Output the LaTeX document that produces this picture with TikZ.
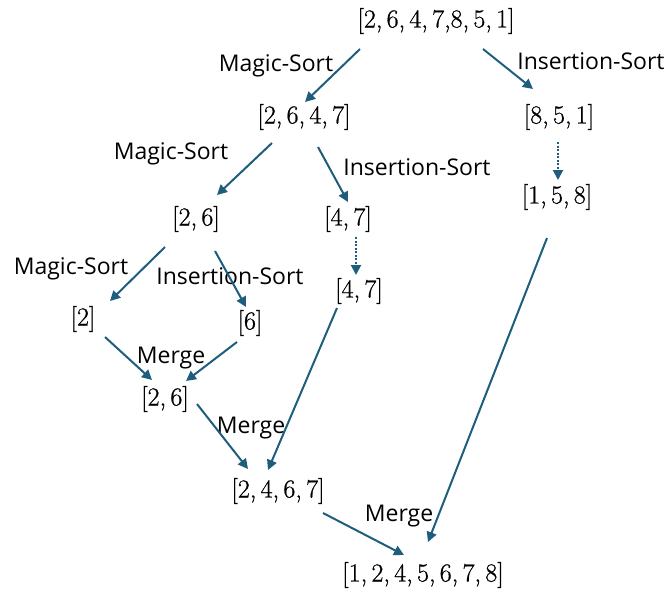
\documentclass[tikz,border=0pt]{standalone}
\usepackage{fontspec}
\setsansfont{Open Sans}
\newfontfamily\numfont[FakeBold=0.7]{Latin Modern Roman}
\usetikzlibrary{arrows.meta}
\definecolor{arr}{RGB}{30,94,124}
\newcommand{\lstsz}{\numfont\fontsize{26}{30}\selectfont}
\tikzset{
  lst/.style={inner sep=0pt, font=\lstsz},
  lbl/.style={inner sep=0pt, anchor=base, font=\sffamily\fontsize{23}{27}\selectfont},
  conn/.style={draw=arr, line width=2pt, -{Triangle[length=10pt,width=10pt]}},
  dconn/.style={conn, dash pattern=on 2pt off 1.5pt}
}
\begin{document}
\begin{tikzpicture}[x=1pt,y=-1pt]
\useasboundingbox (0,0) rectangle (670,589);
% nodes
\node[lst] (top) at (436,21) {[2,\,6,\,4,\,7,8,\,5,\,1]};
\node[lst] (a) at (304,117) {[2,\,6,\,4,\,7]};
\node[lst] (b) at (559,117) {[8,\,5,\,1]};
\node[lst] (bs) at (557,197) {[1,\,5,\,8]};
\node[lst] (c) at (196,219) {[2,\,6]};
\node[lst] (d) at (348,219) {[4,\,7]};
\node[lst] (ds) at (359,291) {[4,\,7]};
\node[lst] (e) at (83,319) {[2]};
\node[lst] (f) at (250,323) {[6]};
\node[lst] (m1) at (165,399) {[2,\,6]};
\node[lst] (m2) at (278,491) {[2,\,4,\,6,\,7]};
\node[lst] (m3) at (423,575) {[1,\,2,\,4,\,5,\,6,\,7,\,8]};
% labels
\node[lbl] (l1) at (276,71) {Magic-Sort};
\node[lbl] (l2) at (591,69) {Insertion-Sort};
\node[lbl] (l3) at (171,159) {Magic-Sort};
\node[lbl] (l4) at (417,175) {Insertion-Sort};
\node[lbl] (l5) at (71,274) {Magic-Sort};
\node[lbl] (l6) at (230,284) {Insertion-Sort};
\node[lbl] (l7) at (171,363) {Merge};
\node[lbl] (l8) at (251,433) {Merge};
\node[lbl] (l9) at (399,521) {Merge};
% connectors
\draw[conn] ([shift={(-76,28)}]top.center) -- ([shift={(1,-15)}]a.center);
\draw[conn] ([shift={(47,28)}]top.center) -- ([shift={(-26,-28)}]b.center);
\draw[dconn] ([shift={(-1,25)}]b.center) -- ([shift={(1,-17)}]bs.center);
\draw[conn] ([shift={(-32,26)}]a.center) -- ([shift={(21,-24)}]c.center);
\draw[conn] ([shift={(14,30)}]a.center) -- ([shift={(0,-17)}]d.center);
\draw[dconn] ([shift={(8,18)}]d.center) -- ([shift={(-3,-16)}]ds.center);
\draw[conn] ([shift={(-31,28)}]c.center) -- ([shift={(27,-18)}]e.center);
\draw[conn] ([shift={(19,32)}]c.center) -- ([shift={(-4,-16)}]f.center);
\draw[conn] ([shift={(22,18)}]e.center) -- ([shift={(-13,-19)}]m1.center);
\draw[conn] ([shift={(-13,19)}]f.center) -- ([shift={(21,-18)}]m1.center);
\draw[conn] ([shift={(32,5)}]m1.center) -- ([shift={(-30,-22)}]m2.center);
\draw[conn] ([shift={(-22,17)}]ds.center) -- ([shift={(-10,-21)}]m2.center);
\draw[conn] ([shift={(45,22)}]m2.center) -- ([shift={(-19,-20)}]m3.center);
\draw[conn] ([shift={(-10,41)}]bs.center) -- ([shift={(5,-33)}]m3.center);
\end{tikzpicture}
\end{document}
